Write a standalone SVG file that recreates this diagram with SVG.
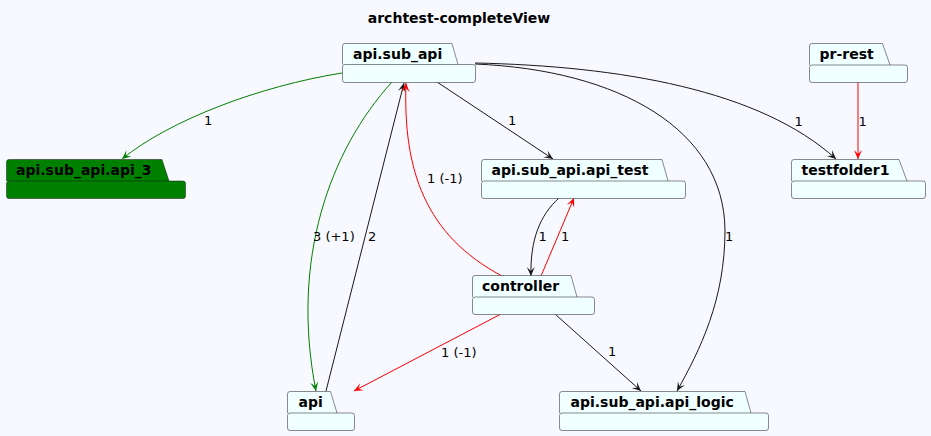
<svg xmlns="http://www.w3.org/2000/svg" width="931" height="436" viewBox="0 0 931 436">
<style>
.bg{fill:#F8F8FF}
.pk{fill:#F0FFFF;stroke:#181818;stroke-width:0.5}
.pkg{fill:#008000;stroke:#181818;stroke-width:0.5}
.nm{font-family:"DejaVu Sans",sans-serif;font-size:14px;font-weight:bold;fill:#000}
.lb{font-family:"DejaVu Sans",sans-serif;font-size:13px;fill:#000}
.e{fill:none;stroke-width:1}
.k{stroke:#181818}
.g{stroke:#008000}
.r{stroke:#FF0000}
</style>
<defs>
<marker id="ak" viewBox="-10 -5 11 10" refX="0" refY="0" markerWidth="11" markerHeight="10" markerUnits="userSpaceOnUse" orient="auto"><path d="M0,0 L-9,-4 L-5,0 L-9,4 Z" fill="#181818"/></marker>
<marker id="ag" viewBox="-10 -5 11 10" refX="0" refY="0" markerWidth="11" markerHeight="10" markerUnits="userSpaceOnUse" orient="auto"><path d="M0,0 L-9,-4 L-5,0 L-9,4 Z" fill="#008000"/></marker>
<marker id="ar" viewBox="-10 -5 11 10" refX="0" refY="0" markerWidth="11" markerHeight="10" markerUnits="userSpaceOnUse" orient="auto"><path d="M0,0 L-9,-4 L-5,0 L-9,4 Z" fill="#FF0000"/></marker>
</defs>
<rect class="bg" x="0" y="0" width="931" height="436"/>
<text x="459" y="23" text-anchor="middle" class="nm">archtest-completeView</text>

<g id="connectors">
<path class="e g" d="M342,73 C260,86 170,120 122,159" marker-end="url(#ag)"/>
<path class="e g" d="M392,82 C330,150 290,260 316,391" marker-end="url(#ag)"/>
<path class="e k" d="M326,391 L404,83" marker-end="url(#ak)"/>
<path class="e r" d="M502,276 C425,235 403,170 406,83" marker-end="url(#ar)"/>
<path class="e k" d="M437,82 L553,159" marker-end="url(#ak)"/>
<path class="e k" d="M475,64 C620,70 724,130 725,230 C725,300 700,350 677,391" marker-end="url(#ak)"/>
<path class="e k" d="M475,63 C620,66 760,90 836,159" marker-end="url(#ak)"/>
<path class="e r" d="M858,82 L858,159" marker-end="url(#ar)"/>
<path class="e k" d="M559,198 C540,215 530,240 531,276" marker-end="url(#ak)"/>
<path class="e r" d="M541,276 L574,198" marker-end="url(#ar)"/>
<path class="e r" d="M501,314 L354,391" marker-end="url(#ar)"/>
<path class="e k" d="M555,314 L641,391" marker-end="url(#ak)"/>
<text class="lb" x="204" y="124.5">1</text>
<text class="lb" x="313" y="241">3 (+1)</text>
<text class="lb" x="368" y="241">2</text>
<text class="lb" x="427" y="183">1 (-1)</text>
<text class="lb" x="508" y="125">1</text>
<text class="lb" x="794.5" y="125.5">1</text>
<text class="lb" x="858.5" y="125.5">1</text>
<text class="lb" x="538.5" y="241">1</text>
<text class="lb" x="561" y="241">1</text>
<text class="lb" x="725" y="241">1</text>
<text class="lb" x="441" y="357">1 (-1)</text>
<text class="lb" x="608" y="356">1</text>
</g>

<g id="node-api.sub_api">
<path class="pk" d="M342.5,64.5 L342.5,46 A2.5,2.5 0 0 1 345,43.5 L452,43.5 L458,64.5"/>
<rect class="pk" x="342.5" y="64.5" width="133" height="18" rx="2.5"/>
<text class="nm" x="353" y="59">api.sub_api</text>
</g>
<g id="node-api.sub_api.api_3">
<path class="pkg" d="M6.5,181 L6.5,162 A2.5,2.5 0 0 1 9,159.5 L162,159.5 L169,181"/>
<rect class="pkg" x="6.5" y="181" width="179" height="17.5" rx="2.5"/>
<text class="nm" x="16" y="175">api.sub_api.api_3</text>
</g>
<g id="node-api.sub_api.api_test">
<path class="pk" d="M481.5,181 L481.5,162 A2.5,2.5 0 0 1 484,159.5 L662,159.5 L668,181"/>
<rect class="pk" x="481.5" y="181" width="204" height="17.5" rx="2.5"/>
<text class="nm" x="491.5" y="175">api.sub_api.api_test</text>
</g>
<g id="node-controller">
<path class="pk" d="M472.5,297 L472.5,278 A2.5,2.5 0 0 1 475,275.5 L571,275.5 L577,297"/>
<rect class="pk" x="472.5" y="297" width="122" height="17.5" rx="2.5"/>
<text class="nm" x="482" y="291">controller</text>
</g>
<g id="node-api">
<path class="pk" d="M287.5,413 L287.5,394 A2.5,2.5 0 0 1 290,391.5 L330.5,391.5 L337,413"/>
<rect class="pk" x="287.5" y="413" width="67" height="17.5" rx="2.5"/>
<text class="nm" x="298.5" y="406.5">api</text>
</g>
<g id="node-api.sub_api.api_logic">
<path class="pk" d="M559.5,413 L559.5,394 A2.5,2.5 0 0 1 562,391.5 L745,391.5 L751,413"/>
<rect class="pk" x="559.5" y="413" width="209" height="17.5" rx="2.5"/>
<text class="nm" x="570.5" y="406.5">api.sub_api.api_logic</text>
</g>
<g id="node-pr-rest">
<path class="pk" d="M809.5,65 L809.5,46 A2.5,2.5 0 0 1 812,43.5 L882.5,43.5 L890,65"/>
<rect class="pk" x="809.5" y="65" width="98" height="17.5" rx="2.5"/>
<text class="nm" x="819.5" y="59">pr-rest</text>
</g>
<g id="node-testfolder1">
<path class="pk" d="M791.5,181 L791.5,162 A2.5,2.5 0 0 1 794,159.5 L899,159.5 L907,181"/>
<rect class="pk" x="791.5" y="181" width="134" height="17.5" rx="2.5"/>
<text class="nm" x="801.5" y="175">testfolder1</text>
</g>
</svg>
